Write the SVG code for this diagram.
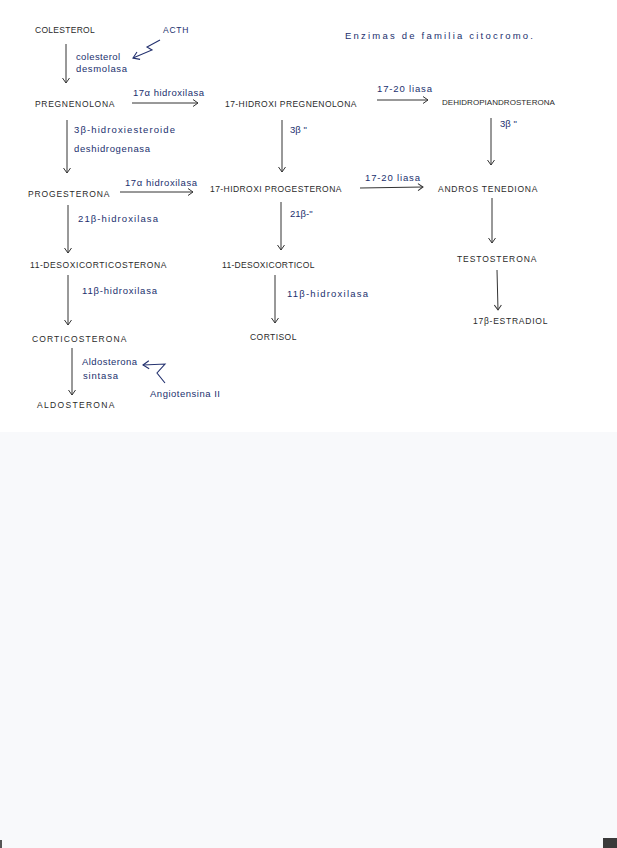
<svg xmlns="http://www.w3.org/2000/svg" width="617" height="848" viewBox="0 0 617 848">
<style>
.c{font-family:"Liberation Sans",Arial,sans-serif;font-size:8.5px;fill:#2a2a2a;letter-spacing:0.6px}
.s{font-size:8px;letter-spacing:0.1px}
.e{font-family:"Liberation Sans",Arial,sans-serif;font-size:9.5px;fill:#22306e}
.l{stroke:#333;stroke-width:1;fill:none}
.b{stroke:#22306e;stroke-width:1.1;fill:none}
</style>
<defs>
<marker id="ah" markerWidth="8" markerHeight="8" refX="6" refY="4" orient="auto" markerUnits="userSpaceOnUse">
<path d="M1,0.5 L6,4 L1,7.5" fill="none" stroke="#333" stroke-width="1"/>
</marker>
<marker id="ab" markerWidth="10" markerHeight="10" refX="7" refY="5" orient="auto" markerUnits="userSpaceOnUse">
<path d="M1,1 L7,5 L1,9" fill="none" stroke="#22306e" stroke-width="1.1"/>
</marker>
</defs>
<rect x="0" y="0" width="617" height="848" fill="#f8f9fb"/>
<rect x="0" y="0" width="617" height="432" fill="#ffffff"/>
<rect x="603" y="838" width="14" height="10" fill="#3a3a3a"/>
<rect x="0" y="840" width="2" height="8" fill="#555"/>

<g id="title"><text class="e" x="345" y="39" textLength="188" font-size="10.5">Enzimas de familia citocromo.</text></g>

<g id="colesterol"><text class="c" x="35" y="33" textLength="60" style="letter-spacing:0.3px">COLESTEROL</text></g>
<g id="acth"><text class="c" x="163" y="33" textLength="26" style="fill:#22306e">ACTH</text></g>
<g id="pregnenolona"><text class="c" x="35" y="107" textLength="80">PREGNENOLONA</text></g>
<g id="hidroxipregnenolona"><text class="c" x="225" y="107" textLength="132">17-HIDROXI PREGNENOLONA</text></g>
<g id="dehidroepiandrosterona"><text class="c s" x="442" y="105" textLength="113">DEHIDROPIANDROSTERONA</text></g>
<g id="progesterona"><text class="c" x="28" y="197" textLength="82">PROGESTERONA</text></g>
<g id="hidroxiprogesterona"><text class="c" x="210" y="192" textLength="132">17-HIDROXI PROGESTERONA</text></g>
<g id="androstenediona"><text class="c" x="438" y="192" textLength="100">ANDROS TENEDIONA</text></g>
<g id="desoxicorticosterona"><text class="c" x="30" y="268" textLength="137">11-DESOXICORTICOSTERONA</text></g>
<g id="desoxicorticol"><text class="c" x="222" y="268" textLength="93">11-DESOXICORTICOL</text></g>
<g id="testosterona"><text class="c" x="457" y="262" textLength="80">TESTOSTERONA</text></g>
<g id="estradiol"><text class="c" x="473" y="324" textLength="75">17β-ESTRADIOL</text></g>
<g id="corticosterona"><text class="c" x="32" y="342" textLength="95">CORTICOSTERONA</text></g>
<g id="cortisol"><text class="c" x="250" y="340" textLength="47">CORTISOL</text></g>
<g id="aldosterona"><text class="c" x="37" y="408" textLength="78">ALDOSTERONA</text></g>
<g id="angiotensina"><text class="e" x="150" y="397" textLength="70">Angiotensina II</text></g>

<g id="connectors">
<line class="l" x1="66" y1="44" x2="66" y2="83" marker-end="url(#ah)"/>
<polyline class="b" points="160,40 147,47 152,50 133,58" marker-end="url(#ab)"/>
<line class="l" x1="132" y1="103" x2="198" y2="103" marker-end="url(#ah)"/>
<line class="l" x1="377" y1="100" x2="428" y2="100" marker-end="url(#ah)"/>
<line class="l" x1="67" y1="120" x2="67" y2="173" marker-end="url(#ah)"/>
<line class="l" x1="282" y1="120" x2="282" y2="172" marker-end="url(#ah)"/>
<line class="l" x1="491" y1="118" x2="491" y2="165" marker-end="url(#ah)"/>
<line class="l" x1="120" y1="192" x2="193" y2="192" marker-end="url(#ah)"/>
<line class="l" x1="360" y1="188" x2="423" y2="187" marker-end="url(#ah)"/>
<line class="l" x1="68" y1="205" x2="68" y2="253" marker-end="url(#ah)"/>
<line class="l" x1="281" y1="202" x2="281" y2="250" marker-end="url(#ah)"/>
<line class="l" x1="492" y1="198" x2="492" y2="243" marker-end="url(#ah)"/>
<line class="l" x1="497" y1="270" x2="498" y2="310" marker-end="url(#ah)"/>
<line class="l" x1="68" y1="275" x2="68" y2="325" marker-end="url(#ah)"/>
<line class="l" x1="275" y1="275" x2="275" y2="323" marker-end="url(#ah)"/>
<line class="l" x1="72" y1="348" x2="72" y2="395" marker-end="url(#ah)"/>
<polyline class="b" points="165,383 157,373 165,364 143,365" marker-end="url(#ab)"/>
</g>

<g id="labels">
<text class="e" x="76" y="60" textLength="44">colesterol</text>
<text class="e" x="76" y="72" textLength="51">desmolasa</text>
<text class="e" x="133" y="96" textLength="71">17α hidroxilasa</text>
<text class="e" x="377" y="92" textLength="55">17-20 liasa</text>
<text class="e" x="74" y="133" textLength="101">3β-hidroxiesteroide</text>
<text class="e" x="74" y="152" textLength="76">deshidrogenasa</text>
<text class="e" x="290" y="133">3β "</text>
<text class="e" x="500" y="127">3β "</text>
<text class="e" x="125" y="186" textLength="72">17α hidroxilasa</text>
<text class="e" x="365" y="181" textLength="55">17-20 liasa</text>
<text class="e" x="78" y="222" textLength="80">21β-hidroxilasa</text>
<text class="e" x="290" y="217">21β-"</text>
<text class="e" x="82" y="294" textLength="75">11β-hidroxilasa</text>
<text class="e" x="287" y="297" textLength="81">11β-hidroxilasa</text>
<text class="e" x="82" y="365" textLength="55">Aldosterona</text>
<text class="e" x="83" y="379" textLength="35">sintasa</text>
</g>
</svg>
